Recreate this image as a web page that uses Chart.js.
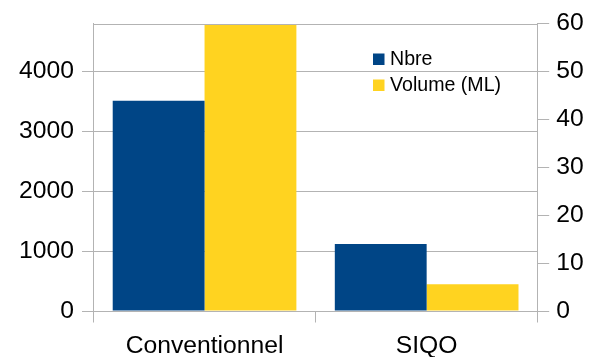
<!DOCTYPE html>
<html>
<head>
<meta charset="utf-8">
<script src="https://cdn.jsdelivr.net/npm/chart.js@4"></script>
<style>
html,body{margin:0;padding:0;background:#fff;}
#wrap{width:589px;height:357px;position:relative;}
</style>
</head>
<body>
<div id="wrap"><canvas id="c" width="589" height="357"></canvas></div>
<script>
const categories = ["Conventionnel", "SIQO"];
const seriesNames = ["Nbre", "Volume (ML)"];
const nbreValues = [3510, 1120];
const volumeValues = [59.7, 5.6];
const leftTicks = [0, 1000, 2000, 3000, 4000];
const rightTicks = [0, 10, 20, 30, 40, 50, 60];

const FONT = "'Liberation Sans', Arial, sans-serif";
const GRID = "#b3b3b3";

const framePlugin = {
  id: "frame",
  afterDatasetsDraw(chart) {
    const a = chart.chartArea, ctx = chart.ctx;
    ctx.save();
    ctx.strokeStyle = GRID;
    ctx.lineWidth = 1;
    ctx.beginPath();
    ctx.moveTo(a.left, Math.round(a.top) + 0.5);
    ctx.lineTo(a.right, Math.round(a.top) + 0.5);
    ctx.stroke();
    ctx.restore();
  },
  afterDraw(chart) {
    const a = chart.chartArea, ctx = chart.ctx;
    ctx.save();
    ctx.font = "19.6px " + FONT;
    ctx.textBaseline = "middle";
    ctx.textAlign = "left";
    chart.data.datasets.forEach((ds, i) => {
      const y = a.top + 35.5 + i * 26;
      ctx.fillStyle = ds.backgroundColor;
      ctx.fillRect(a.left + 279.5, y - 5.5, 11.5, 11.5);
      ctx.fillStyle = "#000";
      ctx.fillText(ds.label, a.left + 296.5, y + 1);
    });
    ctx.restore();
  }
};

new Chart(document.getElementById("c"), {
  type: "bar",
  data: {
    labels: categories,
    datasets: [
      { label: seriesNames[0], data: nbreValues, backgroundColor: "#004586", yAxisID: "y" },
      { label: seriesNames[1], data: volumeValues, backgroundColor: "#ffd320", yAxisID: "y2" }
    ]
  },
  plugins: [framePlugin],
  options: {
    responsive: false,
    animation: false,
    devicePixelRatio: 1,
    layout: { padding: { top: 23.5, left: 0, right: 0, bottom: 0 } },
    datasets: { bar: { categoryPercentage: 0.827, barPercentage: 1.0, borderWidth: 0 } },
    plugins: { legend: { display: false }, tooltip: { enabled: false } },
    scales: {
      x: {
        grid: { display: true, drawOnChartArea: false, offset: true, color: GRID, tickLength: 11.5 },
        border: { display: true, color: GRID },
        ticks: { color: "#000", font: { family: FONT, size: 24.7 }, padding: 9 },
        afterFit(s) { s.height = 46; }
      },
      y: {
        position: "left",
        min: 0, max: 4800,
        afterBuildTicks(s) { s.ticks = leftTicks.map(v => ({ value: v })); },
        grid: { color: GRID, tickLength: 11.5 },
        border: { display: true, color: GRID },
        ticks: { color: "#000", font: { family: FONT, size: 24.7 }, padding: 8, callback: v => String(v) },
        afterFit(s) { s.width = 93.5; }
      },
      y2: {
        position: "right",
        min: 0, max: 60,
        afterBuildTicks(s) { s.ticks = rightTicks.map(v => ({ value: v })); },
        grid: { drawOnChartArea: false, color: GRID, tickLength: 11.5 },
        border: { display: true, color: GRID },
        ticks: { color: "#000", font: { family: FONT, size: 24.7 }, padding: 7, callback: v => String(v) },
        afterFit(s) { s.width = 51.3; }
      }
    }
  }
});
</script>
</body>
</html>
